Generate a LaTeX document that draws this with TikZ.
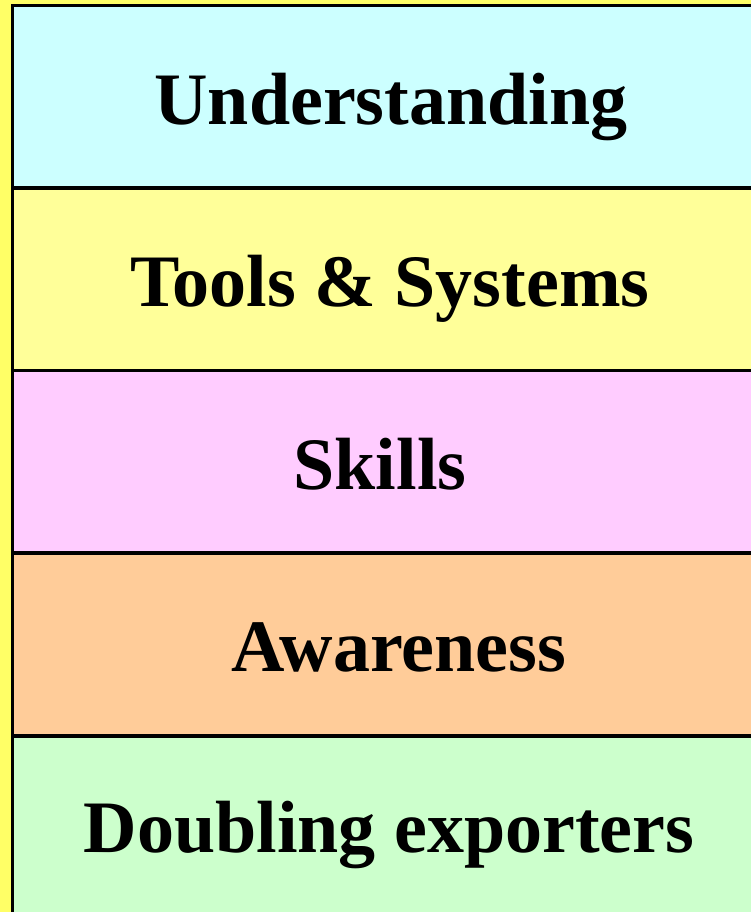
\documentclass[tikz,border=0pt]{standalone}
\usepackage{fontspec}
\setmainfont{Liberation Serif}
\definecolor{bgyellow}{HTML}{FFFF66}
\definecolor{rowcyan}{HTML}{CCFFFF}
\definecolor{rowyellow}{HTML}{FFFF99}
\definecolor{rowpink}{HTML}{FFCCFF}
\definecolor{roworange}{HTML}{FFCC99}
\definecolor{rowgreen}{HTML}{CCFFCC}
\tikzset{
  band/.style={draw=black, line width=3.5pt},
  label/.style={anchor=base, inner sep=0pt, font=\fontsize{74}{80}\selectfont\bfseries}
}
\begin{document}
\begin{tikzpicture}[x=1pt,y=1pt]
  \useasboundingbox (0,0) rectangle (751,912);
  \fill[bgyellow] (0,0) rectangle (751,912);
  % stacked bands, top to bottom
  \draw[band, fill=rowcyan]   (12.5,906.5) rectangle (770,724);
  \draw[band, fill=rowyellow] (12.5,724)   rectangle (770,541.5);
  \draw[band, fill=rowpink]   (12.5,541.5) rectangle (770,359);
  \draw[band, fill=roworange] (12.5,359)   rectangle (770,176);
  \draw[band, fill=rowgreen]  (12.5,176)   rectangle (770,-20);
  % band captions
  \node[label] (u) at (391,787) {Understanding};
  \node[label] (t) at (390,605) {Tools \& Systems};
  \node[label] (s) at (380,422) {Skills};
  \node[label] (a) at (399,240) {Awareness};
  \node[label] (d) at (389,59)  {Doubling exporters};
\end{tikzpicture}
\end{document}
